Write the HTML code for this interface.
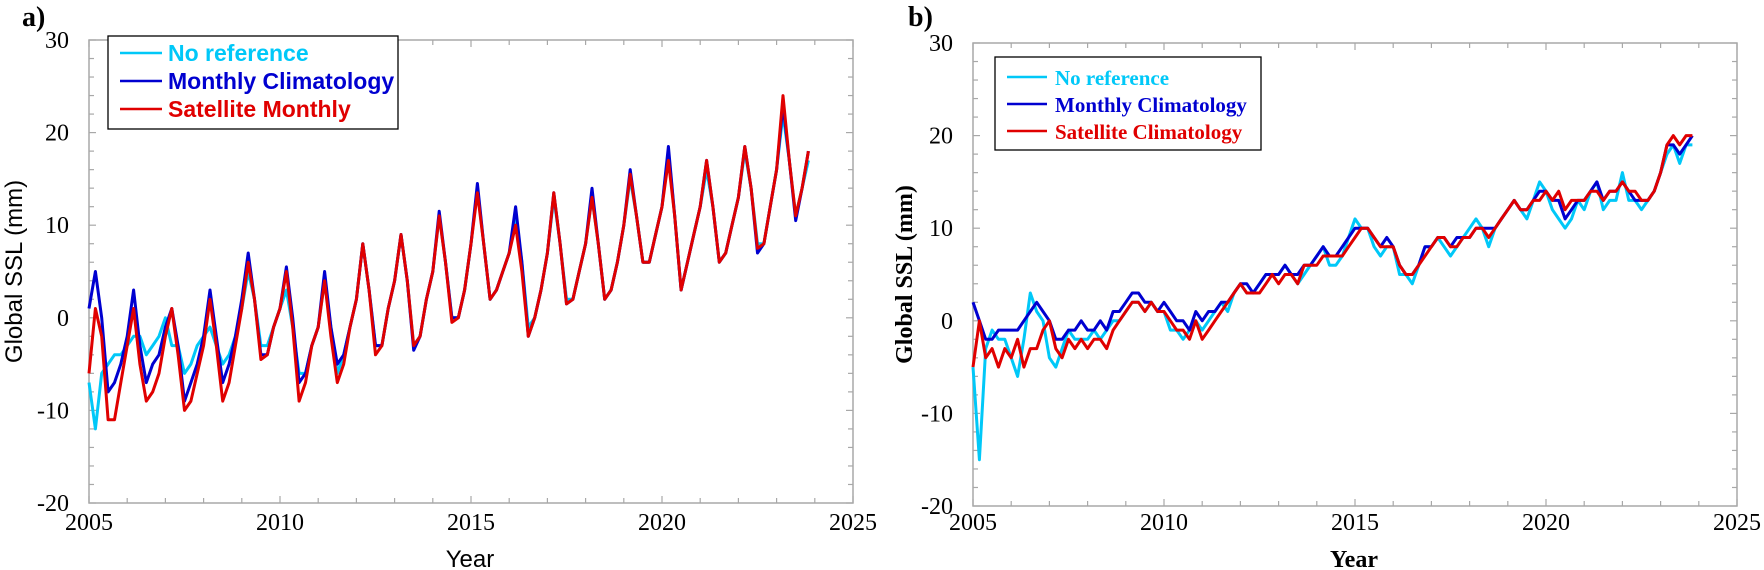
<!DOCTYPE html>
<html><head><meta charset="utf-8"><style>
html,body{margin:0;padding:0;background:#fff;}
svg{display:block;}
</style></head><body>
<svg id="chart" width="1764" height="570" viewBox="0 0 1764 570" xmlns="http://www.w3.org/2000/svg"></svg>
<script>
// Data: 6 samples per year (Jan, Mar, May, Jul, Sep, Nov), 2005-2023
const startYear = 2005;
const monthsPerSample = 2;
const yTicks = [30, 20, 10, 0, -10, -20];
const xTicks = [2005, 2010, 2015, 2020, 2025];

const aNoRef = [
-7,-12,-6,-5,-4,-4, -3,-2,-2,-4,-3,-2, 0,-3,-3,-6,-5,-3, -2,-1,-3,-5,-4,-2,
1,5,2,-3,-3,-1, 1,3,-1,-6,-6,-3, -1,4,-1,-6,-4,-1, 2,8,3,-3,-3,1,
4,9,4,-3,-2,2, 5,11,6,0,0,3, 8,14,8,2,3,5, 7,11,6,-1,0,3,
7,13,8,2,2,5, 8,13,8,2,3,6, 10,15,11,6,6,9, 12,18,11,3,6,9,
12,16,12,6,7,10, 13,18,14,8,8,12, 16,22,17,11,14,17];
const aMonthly = [
1,5,0,-8,-7,-5, -2,3,-3,-7,-5,-4, -1,1,-3,-9,-7,-5, -2,3,-2,-7,-5,-2,
2,7,2,-4,-4,-1, 1,5.5,0,-7,-6,-3, -1,5,-1,-5,-4,-1, 2,8,3,-3,-3,1,
4,9,4,-3.5,-2,2, 5,11.5,6,0,0,3, 8,14.5,8,2,3,5, 7,12,6,-2,0,3,
7,13.5,8,1.5,2,5, 8,14,8,2,3,6, 10,16,11,6,6,9, 12,18.5,11,3,6,9,
12,17,12,6,7,10, 13,18.5,14,7,8,12, 16,23,17,10.5,14,18];
const aSatellite = [
-6,1,-2,-11,-11,-7, -3,1,-5,-9,-8,-6, -2,1,-4,-10,-9,-6, -3,2,-3,-9,-7,-3,
1,6,2,-4.5,-4,-1, 1,5,-1,-9,-7,-3, -1,4,-2,-7,-5,-1, 2,8,3,-4,-3,1,
4,9,4,-3,-2,2, 5,11,6,-0.5,0,3, 8,13.5,8,2,3,5, 7,10,5,-2,0,3,
7,13.5,8,1.5,2,5, 8,13,8,2,3,6, 10,15.5,11,6,6,9, 12,17,11,3,6,9,
12,17,12,6,7,10, 13,18.5,14,7.5,8,12, 16,24,17,11,14,18];

const bNoRef = [
-5,-15,-3,-1,-2,-2, -4,-6,-2,3,1,0, -4,-5,-3,-1,-2,-2, -2,-1,-2,-1,0,0,
1,2,2,1,2,1, 1,-1,-1,-2,-1,0, -1,0,1,2,1,3, 4,3,3,4,5,5,
5,6,5,4,5,6, 7,8,6,6,7,9, 11,10,10,8,7,8, 8,5,5,4,6,8,
8,9,8,7,8,9, 10,11,10,8,10,11, 12,13,12,11,13,15, 14,12,11,10,11,13,
12,14,15,12,13,13, 16,13,13,12,13,14, 16,18,19,17,19,19];
const bMonthly = [
2,0,-2,-2,-1,-1, -1,-1,0,1,2,1, 0,-2,-2,-1,-1,0, -1,-1,0,-1,1,1,
2,3,3,2,2,1, 2,1,0,0,-1,1, 0,1,1,2,2,3, 4,4,3,4,5,5,
5,6,5,5,6,6, 7,8,7,7,8,9, 10,10,10,9,8,9, 8,6,5,5,6,8,
8,9,9,8,9,9, 9,10,10,10,10,11, 12,13,12,12,13,14, 14,13,13,11,12,13,
13,14,15,13,14,14, 15,14,13,13,13,14, 16,19,19,18,19,20];
const bSatellite = [
-5,0,-4,-3,-5,-3, -4,-2,-5,-3,-3,-1, 0,-3,-4,-2,-3,-2, -3,-2,-2,-3,-1,0,
1,2,2,1,2,1, 1,0,-1,-1,-2,0, -2,-1,0,1,2,3, 4,3,3,3,4,5,
4,5,5,4,6,6, 6,7,7,7,7,8, 9,10,10,9,8,8, 8,6,5,5,6,7,
8,9,9,8,8,9, 9,10,10,9,10,11, 12,13,12,12,13,13, 14,13,14,12,13,13,
13,14,14,13,14,14, 15,14,14,13,13,14, 16,19,20,19,20,20];

const NS = "http://www.w3.org/2000/svg";
const svg = document.getElementById('chart');
function mk(tag, attrs, parent) {
  const e = document.createElementNS(NS, tag);
  for (const k in attrs) e.setAttribute(k, attrs[k]);
  (parent || svg).appendChild(e);
  return e;
}

function panel(cfg) {
  const g = mk('g', {});
  
  
  const L = cfg.left, R = cfg.right, T = cfg.top, B = cfg.bottom;
  const xs = v => L + (v - 2005) / 20 * (R - L);
  const ys = v => T + (30 - v) / 50 * (B - T);
  const serif = '"Liberation Serif", serif';

  const frame = mk('rect', {x: L, y: T, width: R - L, height: B - T, fill: 'none', stroke: '#a8a8a8', 'stroke-width': 1.5}, g);
  
  
  for (let yv = -20; yv <= 30; yv += 2) {
    const y = ys(yv); const major = yv % 10 === 0; const len = major ? 7 : 5;
    mk('line', {x1: L, x2: L + len, y1: y, y2: y, stroke: '#a8a8a8', 'stroke-width': 1.2}, g);
    mk('line', {x1: R, x2: R - len, y1: y, y2: y, stroke: '#a8a8a8', 'stroke-width': 1.2}, g);
  }
  for (let xv = 2005; xv <= 2025; xv += 1) {
    const x = xs(xv); const major = xv % 5 === 0; const len = major ? 7 : 5;
    mk('line', {x1: x, x2: x, y1: B, y2: B - len, stroke: '#a8a8a8', 'stroke-width': 1.2}, g);
    mk('line', {x1: x, x2: x, y1: T, y2: T + len, stroke: '#a8a8a8', 'stroke-width': 1.2}, g);
  }
  yTicks.forEach(v => {
    const t = mk('text', {x: L - 20, y: ys(v) + 8, 'text-anchor': 'end', 'font-family': serif, 'font-size': 24, fill: '#000'}, g);
    t.textContent = v;
    
    
  });
  xTicks.forEach(v => {
    const t = mk('text', {x: xs(v), y: 530, 'text-anchor': 'middle', 'font-family': serif, 'font-size': 24, fill: '#000'}, g);
    t.textContent = v;
    
    
  });
  const colors = ['#00c8f8', '#0000d0', '#e00000'];
  cfg.series.forEach((arr, si) => {
    const pts = arr.map((v, i) => xs(startYear + (i * monthsPerSample) / 12).toFixed(1) + ',' + ys(v).toFixed(1)).join(' ');
    const p = mk('polyline', {points: pts, fill: 'none', stroke: colors[si], 'stroke-width': 3, 'stroke-linejoin': 'round'}, g);
    
    
  });
  const lg = mk('g', {}, g);
  
  
  const lgb = cfg.legend;
  mk('rect', {x: lgb.x, y: lgb.y, width: lgb.w, height: lgb.h, fill: '#fff', stroke: '#000', 'stroke-width': 1.3}, lg);
  cfg.labels.forEach((lab, i) => {
    const cy = lgb.y + lgb.row0 + i * lgb.dy;
    mk('line', {x1: lgb.x + 12, x2: lgb.x + lgb.lineW, y1: cy, y2: cy, stroke: colors[i], 'stroke-width': 2.6}, lg);
    const t = mk('text', {x: lgb.x + lgb.textX, y: cy + 8, 'font-family': cfg.legendFont, 'font-weight': 'bold', 'font-size': lgb.fs, fill: colors[i]}, lg);
    t.textContent = lab;
    
    
  });
  const xt = mk('text', {x: (L + R) / 2 - 1, y: 567, 'text-anchor': 'middle', 'font-family': cfg.titleFont, 'font-weight': cfg.titleWeight, 'font-size': 24, fill: '#000'}, g);
  xt.textContent = 'Year';
  
  
  const cyT = (T + B) / 2;
  const yt = mk('text', {x: cfg.yTitleX, y: cyT, 'text-anchor': 'middle', transform: `rotate(-90 ${cfg.yTitleX} ${cyT})`, 'font-family': cfg.titleFont, 'font-weight': cfg.titleWeight, 'font-size': 24, fill: '#000'}, g);
  yt.textContent = 'Global SSL (mm)';
  
  
  const pl = mk('text', {x: cfg.labelX, y: 26, 'font-family': serif, 'font-weight': 'bold', 'font-size': 28, fill: '#000'}, g);
  pl.textContent = cfg.panelLabel;
  
  
}

panel({name: 'panel-a', left: 89, right: 853, top: 40, bottom: 503,
  series: [aNoRef, aMonthly, aSatellite],
  seriesNames: ['series-no-reference', 'series-monthly-climatology', 'series-satellite-monthly'],
  labels: ['No reference', 'Monthly Climatology', 'Satellite Monthly'],
  legend: {x: 108, y: 36, w: 290, h: 93, row0: 17, dy: 28, lineW: 54, textX: 60, fs: 23},
  legendFont: '"Liberation Sans", sans-serif',
  titleFont: '"Liberation Sans", sans-serif', titleWeight: 'normal', yTitleX: 22,
  labelX: 22, panelLabel: 'a)'});

panel({name: 'panel-b', left: 973, right: 1737, top: 43, bottom: 506,
  series: [bNoRef, bMonthly, bSatellite],
  seriesNames: ['series-no-reference', 'series-monthly-climatology', 'series-satellite-climatology'],
  labels: ['No reference', 'Monthly Climatology', 'Satellite Climatology'],
  legend: {x: 995, y: 57, w: 266, h: 93, row0: 20, dy: 27, lineW: 52, textX: 60, fs: 21},
  legendFont: '"Liberation Serif", serif',
  titleFont: '"Liberation Serif", serif', titleWeight: 'bold', yTitleX: 912,
  labelX: 908, panelLabel: 'b)'});
</script>
</body></html>
